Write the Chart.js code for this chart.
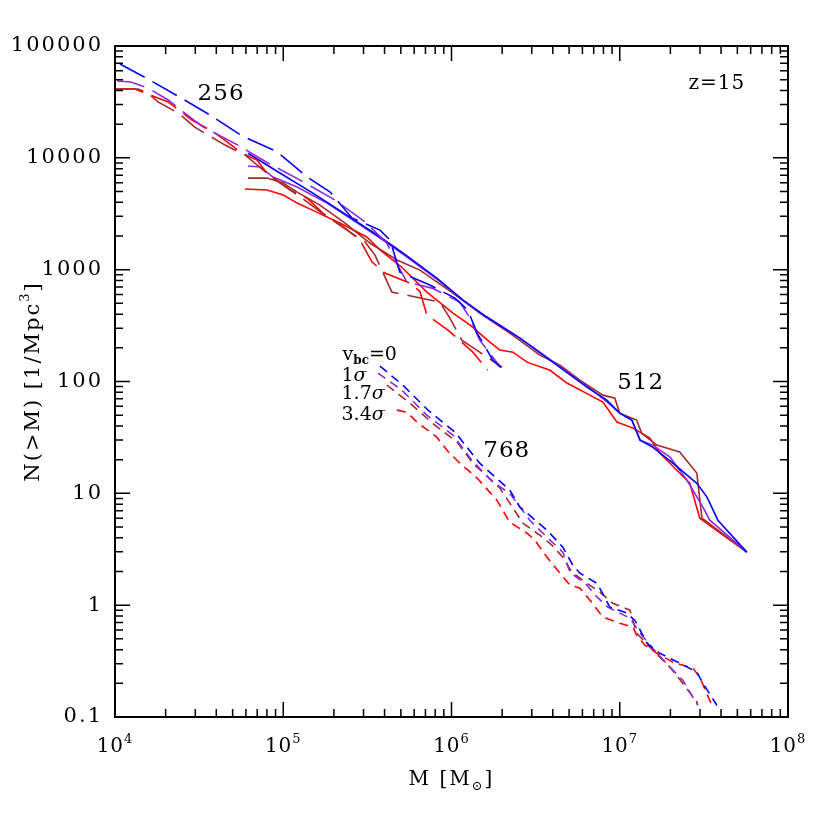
<!DOCTYPE html>
<html>
<head>
<meta charset="utf-8">
<script src="https://cdn.jsdelivr.net/npm/chart.js@4.4.1/dist/chart.umd.min.js"></script>
<style>
  html, body { margin: 0; padding: 0; background: #fff; }
  #wrap { width: 830px; height: 830px; }
</style>
</head>
<body>
<div id="wrap"><canvas id="massChart"></canvas></div>
<script>
// axis ticks
const xTicks = [1e4, 1e5, 1e6, 1e7, 1e8];
const xTickExp = ['4', '5', '6', '7', '8'];
const yTicks = [0.1, 1, 10, 100, 1000, 10000, 100000];
const yTickLabels = ['0.1', '1', '10', '100', '1000', '10000', '100000'];

// colours for v_bc = 0, 1σ, 1.7σ, 3.4σ
const vbcColors = ['#0000ff', '#8a2be2', '#a52a2a', '#ff0000'];
const vbcLabels = ['0', '1σ', '1.7σ', '3.4σ'];

// 256 run  [M, N(>M)]
const box256Blue = [[1.07e4, 69000], [1.57e4, 50700], [2.53e4, 33600], [3.66e4, 24200], [5.69e4, 15700],
  [9.2e4, 11300], [1.39e5, 6730], [1.9e5, 4940], [2.56e5, 2900], [3.76e5, 2260], [4.31e5, 1840],
  [4.93e5, 952], [7.44e5, 728], [1.05e6, 557], [1.25e6, 435], [1.42e6, 271], [1.76e6, 155], [1.96e6, 134]];
const box256Purple = [[1.03e4, 48600], [1.24e4, 47700], [1.57e4, 42100], [2.07e4, 32900], [2.68e4, 24200],
  [3.33e4, 18900], [5.38e4, 13000], [8.11e4, 8980], [1.26e5, 6320], [2.03e5, 4190], [3.06e5, 2670],
  [4.13e5, 1730], [4.61e5, 1220], [5.43e5, 775], [7.65e5, 684], [1.12e6, 513], [1.29e6, 369],
  [1.47e6, 234], [1.96e6, 134]];
const box256Brown = [[1.01e4, 41200], [1.37e4, 41200], [1.57e4, 38000], [1.8e4, 31600], [2.37e4, 25200],
  [2.98e4, 18800], [3.57e4, 16000], [4.51e4, 13000], [5.92e4, 10600], [8.69e4, 6590], [1.29e5, 4370],
  [1.7e5, 3200], [2.49e5, 2170], [3.06e5, 1770], [3.51e5, 1350], [4.42e5, 631], [6.95e5, 546],
  [8.53e5, 513], [9.78e5, 369], [1.15e6, 234], [1.47e6, 183], [2.0e6, 134]];
const box256Red = [[1.01e4, 41200], [1.31e4, 41200], [1.57e4, 37200], [2.07e4, 31600], [2.87e4, 21800],
  [3.93e4, 16700], [5.69e4, 11000], [6.98e4, 9550], [8.0e4, 7310], [1.1e5, 5150], [1.38e5, 4370],
  [1.72e5, 3200], [2.33e5, 2350], [2.86e5, 1840], [3.37e5, 1170], [4.02e5, 933], [5.66e5, 759],
  [6.49e5, 640], [7.14e5, 393], [9.53e5, 288], [1.34e6, 183], [1.64e6, 126]];

// 512 run
const box512Blue = [[6.17e4, 11000], [9.55e4, 7310], [1.5e5, 4840], [2.49e5, 2950], [3.76e5, 1960],
  [5.14e5, 1410], [8.18e5, 841], [1.17e6, 535], [1.62e6, 377], [2.55e6, 244], [3.85e6, 155],
  [6.38e6, 89], [8.38e6, 68.2], [1.0e7, 52.1], [1.18e7, 45.2], [1.32e7, 29.9], [1.57e7, 25.9],
  [2.07e7, 18.6], [2.87e7, 12.3], [3.3e7, 9.25], [3.83e7, 5.75], [5.69e7, 2.98]];
const box512Purple = [[6.17e4, 8450], [7.28e4, 8280], [8.69e4, 6730], [1.21e5, 5480], [1.82e5, 3940],
  [2.49e5, 2900], [3.76e5, 1920], [5.14e5, 1380], [8.18e5, 824], [1.17e6, 535], [1.62e6, 377],
  [2.55e6, 244], [3.85e6, 158], [6.38e6, 91], [8.15e6, 68.2], [1.0e7, 52.1], [1.18e7, 45.2],
  [1.32e7, 29.9], [1.57e7, 27], [1.99e7, 21.1], [2.51e7, 13.1], [3.12e7, 7.53], [3.43e7, 5.75],
  [5.69e7, 2.98]];
const box512Brown = [[6.17e4, 6590], [8.0e4, 6590], [1.0e5, 5950], [1.21e5, 4940], [1.65e5, 3780],
  [2.33e5, 2610], [3.27e5, 1730], [4.74e5, 1220], [6.49e5, 991], [1.02e6, 618], [1.47e6, 409],
  [2.22e6, 271], [3.35e6, 172], [4.41e6, 140], [5.8e6, 103], [7.94e6, 75.5], [9.35e6, 71],
  [1.0e7, 52.1], [1.26e7, 45.2], [1.35e7, 34.5], [1.66e7, 27], [2.27e7, 23.4], [2.87e7, 15.2],
  [3.08e7, 6.0], [5.69e7, 2.98]];
const box512Red = [[5.92e4, 5260], [8.0e4, 5150], [1.0e5, 4650], [1.21e5, 3940], [1.58e5, 3270],
  [2.17e5, 2610], [3.14e5, 1960], [3.76e5, 1500], [5.14e5, 1030], [7.14e5, 631], [1.02e6, 409],
  [1.29e6, 319], [1.69e6, 225], [1.94e6, 191], [2.32e6, 183], [2.81e6, 149], [3.85e6, 126],
  [4.85e6, 96.8], [6.64e6, 75.5], [7.94e6, 65.5], [9.62e6, 43.4], [1.2e7, 38.3], [1.51e7, 31.2],
  [1.73e7, 22.9], [2.27e7, 15.2], [2.61e7, 12.3], [2.99e7, 6.0], [5.69e7, 2.98]];

// 768 run
const box768Blue = [[3.76e5, 137], [5.14e5, 92.9], [7.24e5, 55.5], [1.05e6, 35.2], [1.47e6, 18.6],
  [2.22e6, 10.7], [2.55e6, 7.53], [3.69e6, 4.69], [4.59e6, 3.3], [5.26e6, 2.28], [5.8e6, 1.93],
  [7.31e6, 1.57], [7.83e6, 1.31], [8.73e6, 0.96], [1.1e7, 0.85], [1.23e7, 0.73], [1.32e7, 0.6],
  [1.45e7, 0.457], [1.73e7, 0.372], [2.27e7, 0.303], [2.87e7, 0.252], [3.12e7, 0.2], [3.78e7, 0.127]];
const box768Purple = [[3.66e5, 119], [5.07e5, 83.8], [7.14e5, 50], [1.02e6, 33.2], [1.32e6, 19.8],
  [1.76e6, 12.6], [2.22e6, 10], [2.92e6, 5.75], [3.69e6, 4.06], [4.59e6, 2.98], [5.06e6, 1.97],
  [6.38e6, 1.51], [7.12e6, 1.23], [8.49e6, 0.96], [1.15e7, 0.765], [1.32e7, 0.562], [1.57e7, 0.412],
  [1.99e7, 0.279], [2.37e7, 0.213], [2.91e7, 0.127]];
const box768Brown = [[4.13e5, 92.9], [5.66e5, 64.1], [7.96e5, 40.7], [1.08e6, 28.7], [1.34e6, 18.6],
  [1.94e6, 11.1], [2.66e6, 5.41], [3.35e6, 4.23], [3.95e6, 3.44], [4.59e6, 2.69], [5.19e6, 1.97],
  [6.38e6, 1.57], [7.62e6, 1.31], [9.1e6, 1.04], [1.15e7, 0.902], [1.26e7, 0.562], [1.57e7, 0.396],
  [1.99e7, 0.279], [2.37e7, 0.2], [2.91e7, 0.133]];
const box768Red = [[4.74e5, 55.5], [5.43e5, 53.2], [6.23e5, 43.4], [8.18e5, 31.8], [9.4e5, 24.3],
  [1.12e6, 18.6], [1.42e6, 13.7], [1.86e6, 8.69], [2.22e6, 5.52], [2.81e6, 4.41], [3.13e6, 3.81],
  [3.69e6, 2.69], [4.41e6, 1.93], [5.06e6, 1.51], [5.8e6, 1.42], [6.64e6, 1.11], [7.94e6, 0.782],
  [1.0e7, 0.69], [1.2e7, 0.636], [1.26e7, 0.54], [1.41e7, 0.439], [1.66e7, 0.372], [2.07e7, 0.309],
  [2.72e7, 0.273], [2.99e7, 0.227], [3.48e7, 0.133]];

const runs = [
  { name: '256', dash: [28, 9], series: [box256Blue, box256Purple, box256Brown, box256Red] },
  { name: '512', dash: [], series: [box512Blue, box512Purple, box512Brown, box512Red] },
  { name: '768', dash: [9, 6], series: [box768Blue, box768Purple, box768Brown, box768Red] }
];

const datasets = [];
runs.forEach(run => {
  run.series.forEach((pts, i) => {
    datasets.push({
      label: run.name + ' v_bc=' + vbcLabels[i],
      data: pts.map(p => ({ x: p[0], y: p[1] })),
      borderColor: vbcColors[i],
      borderWidth: 1.6,
      borderDash: run.dash,
      pointRadius: 0,
      showLine: true,
      fill: false,
      tension: 0
    });
  });
});

const serif = '"DejaVu Serif", serif';

function spaced(ctx, px) {
  if ('letterSpacing' in ctx) ctx.letterSpacing = px + 'px';
}

// draws a string made of pieces [text, font, dy], centred on cx
function drawPieces(ctx, pieces, cx, cy, alignLeft) {
  let total = 0;
  pieces.forEach(p => { ctx.font = p[1]; total += ctx.measureText(p[0]).width; });
  let x = alignLeft ? cx : cx - total / 2;
  pieces.forEach(p => {
    ctx.font = p[1];
    ctx.fillText(p[0], x, cy + p[2]);
    x += ctx.measureText(p[0]).width;
  });
}

// frame with inward ticks, labels and notes
const framePlugin = {
  id: 'frame',
  afterDraw(chart) {
    const { ctx, chartArea: a, scales: { x, y } } = chart;
    ctx.save();
    ctx.strokeStyle = '#000';
    ctx.fillStyle = '#000';

    // ticks
    ctx.lineWidth = 1.5;
    ctx.beginPath();
    for (let e = 4; e < 8; e++) {
      for (let k = 1; k < 10; k++) {
        const px = x.getPixelForValue(k * Math.pow(10, e));
        const len = k === 1 ? 15 : 8;
        ctx.moveTo(px, a.bottom); ctx.lineTo(px, a.bottom - len);
        ctx.moveTo(px, a.top); ctx.lineTo(px, a.top + len);
      }
    }
    for (let e = -1; e < 5; e++) {
      for (let k = 1; k < 10; k++) {
        const py = y.getPixelForValue(k * Math.pow(10, e));
        const len = k === 1 ? 15 : 8;
        ctx.moveTo(a.left, py); ctx.lineTo(a.left + len, py);
        ctx.moveTo(a.right, py); ctx.lineTo(a.right - len, py);
      }
    }
    ctx.stroke();

    ctx.lineWidth = 2;
    ctx.strokeRect(a.left, a.top, a.right - a.left, a.bottom - a.top);

    // y tick labels
    ctx.font = '21px ' + serif;
    ctx.textAlign = 'right';
    ctx.textBaseline = 'middle';
    spaced(ctx, 2);
    yTicks.forEach((v, i) => {
      ctx.fillText(yTickLabels[i], a.left - 12, y.getPixelForValue(v));
    });

    // x tick labels 10^n
    ctx.textAlign = 'left';
    ctx.textBaseline = 'alphabetic';
    spaced(ctx, 1);
    xTicks.forEach((v, i) => {
      drawPieces(ctx, [['10', '20px ' + serif, 0], [xTickExp[i], '13px ' + serif, -9]],
        x.getPixelForValue(v), a.bottom + 35);
    });

    // axis titles
    spaced(ctx, 2);
    drawPieces(ctx, [['M [M', '20px ' + serif, 0], ['⊙', '13px ' + serif, 5], [']', '20px ' + serif, 0]],
      (a.left + a.right) / 2, a.bottom + 68);
    ctx.save();
    ctx.translate(39, (a.top + a.bottom) / 2);
    ctx.rotate(-Math.PI / 2);
    drawPieces(ctx, [['N(>M) [1/Mpc', '21px ' + serif, 0], ['3', '13px ' + serif, -10], [']', '21px ' + serif, 0]], 0, 0);
    ctx.restore();

    // run labels and redshift
    spaced(ctx, 1);
    ctx.textBaseline = 'middle';
    ctx.textAlign = 'center';
    ctx.font = '23px ' + serif;
    ctx.fillText('256', x.getPixelForValue(4.27e4), y.getPixelForValue(37200));
    ctx.fillText('512', x.getPixelForValue(1.33e7), y.getPixelForValue(96.8));
    ctx.fillText('768', x.getPixelForValue(2.13e6), y.getPixelForValue(23.8));
    ctx.font = '20px ' + serif;
    ctx.fillText('z=15', x.getPixelForValue(3.78e7), y.getPixelForValue(45700));

    // v_bc key
    ctx.textAlign = 'left';
    ctx.textBaseline = 'alphabetic';
    spaced(ctx, 0);
    const kx = x.getPixelForValue(2.25e5);
    const keyFont = '19px ' + serif;
    const sigFont = 'italic 19px ' + serif;
    drawPieces(ctx, [['v', keyFont, 0], ['bc', 'bold 12px ' + serif, 4], ['=0', keyFont, 0]],
      kx, y.getPixelForValue(179) + 7, true);
    [[116, '1'], [80.4, '1.7'], [52.1, '3.4']].forEach(k => {
      drawPieces(ctx, [[k[1], keyFont, 0], ['σ', sigFont, 0]], kx - 1, y.getPixelForValue(k[0]) + 7, true);
    });

    ctx.restore();
  }
};

const ctx = document.getElementById('massChart').getContext('2d');
new Chart(ctx, {
  type: 'scatter',
  data: { datasets: datasets },
  options: {
    responsive: true,
    maintainAspectRatio: false,
    animation: false,
    layout: { padding: { top: 46, right: 42, left: 0, bottom: 0 } },
    plugins: { legend: { display: false }, tooltip: { enabled: false } },
    scales: {
      x: {
        type: 'logarithmic',
        min: 1e4,
        max: 1e8,
        grid: { display: false, drawTicks: false },
        border: { display: false },
        ticks: { display: false },
        afterFit: s => { s.height = 113; }
      },
      y: {
        type: 'logarithmic',
        min: 0.1,
        max: 1e5,
        grid: { display: false, drawTicks: false },
        border: { display: false },
        ticks: { display: false },
        afterFit: s => { s.width = 115; }
      }
    }
  },
  plugins: [framePlugin]
});
</script>
</body>
</html>
